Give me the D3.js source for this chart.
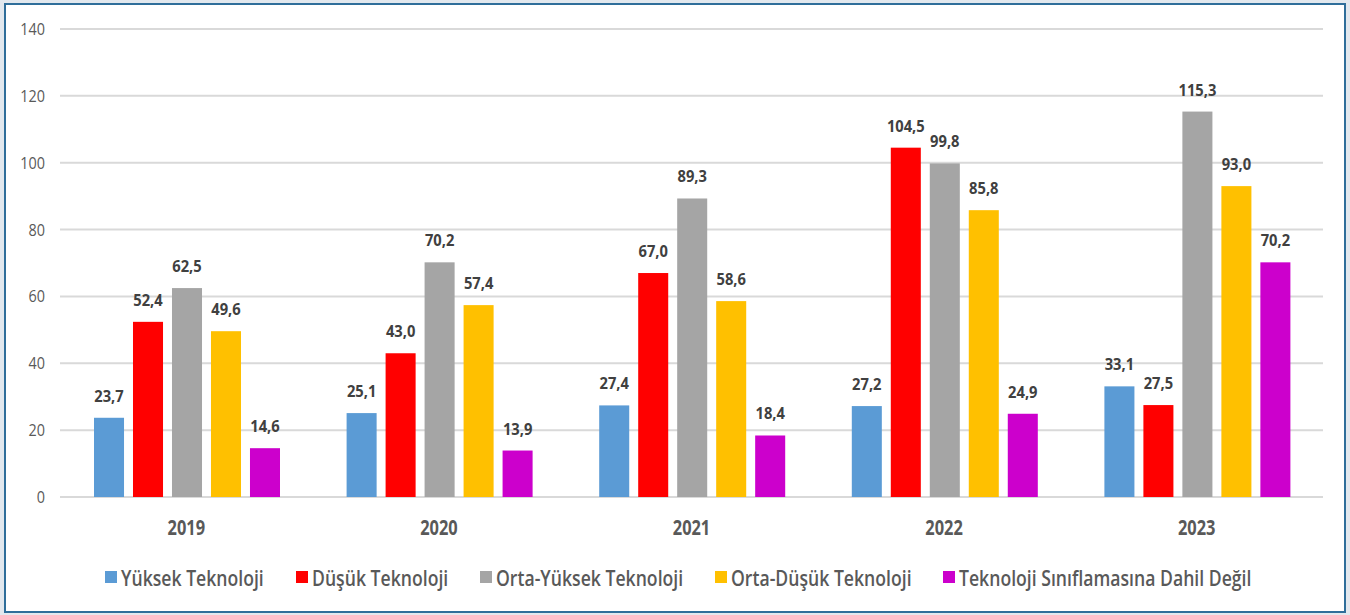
<!DOCTYPE html>
<html>
<head>
<meta charset="utf-8">
<script src="https://cdn.jsdelivr.net/npm/d3@7"></script>
<style>
body{margin:0;background:#e2e8ee;}
svg{display:block;}
</style>
</head>
<body>
<script>
var years = ['2019','2020','2021','2022','2023'];
var seriesNames = ['Yüksek Teknoloji','Düşük Teknoloji','Orta-Yüksek Teknoloji','Orta-Düşük Teknoloji','Teknoloji Sınıflamasına Dahil Değil'];
var yuksek = [23.7,25.1,27.4,27.2,33.1];
var dusuk = [52.4,43.0,67.0,104.5,27.5];
var ortaYuksek = [62.5,70.2,89.3,99.8,115.3];
var ortaDusuk = [49.6,57.4,58.6,85.8,93.0];
var dahilDegil = [14.6,13.9,18.4,24.9,70.2];
var yTicks = [0,20,40,60,80,100,120,140];
var colors = ['#5b9bd5','#ff0000','#a5a5a5','#ffc000','#cc00cc'];

var allSeries = [yuksek,dusuk,ortaYuksek,ortaDusuk,dahilDegil];
var width = 1350, height = 615;
var font = "'Open Sans', sans-serif";

// narrow look of the original font: squeeze text horizontally
function tr(x,y,sx){ return 'translate('+x+','+y+') scale('+sx+',1)'; }

var svg = d3.select('body').append('svg')
	.attr('width',width)
	.attr('height',height);

// frame
svg.append('rect')
	.attr('x',5).attr('y',4)
	.attr('width',1340).attr('height',608)
	.attr('fill','#fff')
	.attr('stroke','#2f6e9a')
	.attr('stroke-width',2);

var plotLeft = 60, plotRight = 1323, plotTop = 29, plotBottom = 497;
var x0 = d3.scaleBand().domain(years).range([plotLeft,plotRight]);
var x1 = d3.scaleBand().domain(d3.range(5)).range([34,220]).paddingInner(0.23);
var y = d3.scaleLinear().domain([0,140]).range([plotBottom,plotTop]);

// grid
svg.append('g').selectAll('line')
	.data(yTicks)
	.enter().append('line')
	.attr('x1',plotLeft).attr('x2',plotRight)
	.attr('y1',d=>y(d)).attr('y2',d=>y(d))
	.attr('stroke','#d9d9d9')
	.attr('stroke-width',2);

svg.append('g').selectAll('text')
	.data(yTicks)
	.enter().append('text')
	.attr('transform',d=>tr(45,y(d)+6,0.9))
	.attr('text-anchor','end')
	.attr('font-family',font)
	.attr('font-size',16)
	.attr('fill','#595959')
	.text(d=>d);

// bars
var groups = svg.append('g').selectAll('g')
	.data(years)
	.enter().append('g')
	.attr('transform',d=>'translate('+x0(d)+',0)');

groups.selectAll('rect')
	.data((d,i)=>allSeries.map((s,j)=>({j:j,v:s[i]})))
	.enter().append('rect')
	.attr('x',d=>x1(d.j))
	.attr('width',x1.bandwidth())
	.attr('y',d=>y(d.v))
	.attr('height',d=>plotBottom-y(d.v))
	.attr('fill',d=>colors[d.j]);

groups.selectAll('text')
	.data((d,i)=>allSeries.map((s,j)=>({j:j,v:s[i]})))
	.enter().append('text')
	.attr('transform',d=>tr(x1(d.j)+x1.bandwidth()/2,y(d.v)-16,0.92))
	.attr('text-anchor','middle')
	.attr('font-family',font)
	.attr('font-size',16)
	.attr('font-weight','bold')
	.attr('fill','#404040')
	.text(d=>d.v.toFixed(1).replace('.',','));

// x labels
svg.append('g').selectAll('text')
	.data(years)
	.enter().append('text')
	.attr('transform',d=>tr(x0(d)+x0.bandwidth()/2,535,0.8))
	.attr('text-anchor','middle')
	.attr('font-family',font)
	.attr('font-size',20.5)
	.attr('font-weight','bold')
	.attr('fill','#595959')
	.text(d=>d);

// legend
var legendX = [105,296,480,715,943];
var legend = svg.append('g').selectAll('g')
	.data(seriesNames)
	.enter().append('g')
	.attr('transform',(d,i)=>'translate('+legendX[i]+',571)');
legend.append('rect')
	.attr('width',12).attr('height',12)
	.attr('fill',(d,i)=>colors[i]);
legend.append('text')
	.attr('transform',tr(16,15,0.84))
	.attr('font-family',font)
	.attr('font-size',21)
	.attr('font-weight',600)
	.attr('fill','#595959')
	.text(d=>d);
</script>
</body>
</html>
